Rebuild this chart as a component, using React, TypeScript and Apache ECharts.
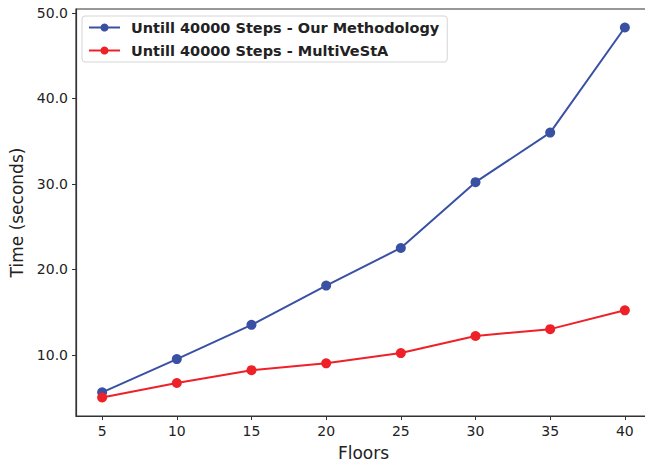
import React, { useEffect, useRef } from "react";
import * as echarts from "echarts";

const floors = [5, 10, 15, 20, 25, 30, 35, 40];
const ourMethodology = [5.6, 9.5, 13.5, 18.1, 22.5, 30.2, 36.0, 48.3];
const multiVeStA = [5.0, 6.7, 8.2, 9.0, 10.2, 12.2, 13.0, 15.2];
const xTicks = [5, 10, 15, 20, 25, 30, 35, 40];
const yTicks = [10, 20, 30, 40, 50];
const seriesNames = ["Untill 40000 Steps - Our Methodology", "Untill 40000 Steps - MultiVeStA"];
const colors = ["#3a51a3", "#ee2028"];

const FONT = "DejaVu Sans";

export default function App() {
  const ref = useRef<HTMLDivElement>(null);
  useEffect(() => {
    if (!ref.current) return;
    const chart = echarts.init(ref.current, null, { renderer: "svg" });
    const mk = (name: string, vals: number[], color: string) => ({
      name,
      type: "line",
      data: floors.map((f, i) => [f, vals[i]]),
      symbol: "circle",
      symbolSize: 10,
      lineStyle: { color, width: 2 },
      itemStyle: { color },
      color,
    });
    chart.setOption({
      animation: false,
      backgroundColor: "#ffffff",
      grid: {
        left: 76, top: 9, width: 575, height: 407,
        outerBoundsMode: "none", containLabel: false,
        show: true, borderColor: "#333", borderWidth: 1.2, backgroundColor: "transparent",
      },
      legend: {
        orient: "vertical",
        left: 82,
        top: 16,
        padding: [4, 8, 4, 6],
        itemGap: 8,
        itemWidth: 31,
        itemHeight: 10,
        borderColor: "#d5d5d5",
        borderWidth: 1,
        borderRadius: 3,
        backgroundColor: "#ffffff",
        textStyle: { fontFamily: FONT, fontWeight: "bold", fontSize: 14.5, color: "#222", padding: [0, 0, 0, 6] },
        data: seriesNames,
      },
      xAxis: {
        type: "value",
        min: 3.25,
        max: 41.75,
        name: "Floors",
        nameLocation: "middle",
        nameGap: 28,
        nameTextStyle: { fontFamily: FONT, fontSize: 17, color: "#222" },
        axisLine: { show: true, onZero: false, lineStyle: { color: "#333", width: 1.2 } },
        axisTick: { show: true, length: 4, lineStyle: { color: "#333" }, customValues: xTicks },
        axisLabel: { fontFamily: FONT, fontSize: 14, color: "#222", margin: 8, customValues: xTicks },
        splitLine: { show: false },
      },
      yAxis: {
        type: "value",
        min: 2.835,
        max: 50.465,
        name: "Time (seconds)",
        nameLocation: "middle",
        nameGap: 50,
        nameTextStyle: { fontFamily: FONT, fontSize: 17, color: "#222" },
        axisLine: { show: true, onZero: false, lineStyle: { color: "#333", width: 1.2 } },
        axisTick: { show: true, length: 4, lineStyle: { color: "#333" }, customValues: yTicks },
        axisLabel: { fontFamily: FONT, fontSize: 14, color: "#222", margin: 8, customValues: yTicks, formatter: (v: number) => v.toFixed(1) },
        splitLine: { show: false },
      },
      series: [mk(seriesNames[0], ourMethodology, colors[0]), mk(seriesNames[1], multiVeStA, colors[1])],
    });
    return () => chart.dispose();
  }, []);
  return <div ref={ref} style={{ width: 645, height: 464, position: "absolute", left: 0, top: 0 }} />;
}
